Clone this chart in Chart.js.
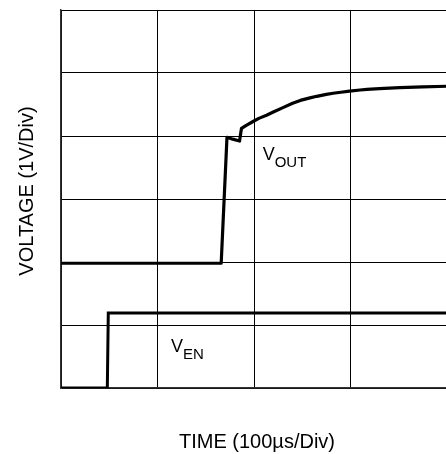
<!DOCTYPE html>
<html>
<head>
<meta charset="utf-8">
<script src="https://cdn.jsdelivr.net/npm/chart.js@4"></script>
<style>
  html, body { margin: 0; padding: 0; background: #fff; overflow: hidden; }
  #wrap { width: 446px; height: 454px; overflow: hidden; }
</style>
</head>
<body>
<div id="wrap"><canvas id="chart" width="448" height="454"></canvas></div>
<script>
// Tempo em µs, tensão em V
const voutTime = [0, 166, 172, 178, 185, 187, 192, 199, 205, 213, 220, 230, 240, 248, 258, 265, 275, 282, 290, 299, 310, 317, 330, 351, 375, 400];
const voutVolts = [1.98, 1.98, 3.98, 3.95, 3.92, 4.12, 4.17, 4.23, 4.28, 4.33, 4.38, 4.45, 4.52, 4.565, 4.605, 4.63, 4.66, 4.678, 4.695, 4.712, 4.73, 4.74, 4.752, 4.768, 4.78, 4.79];
const venTime = [0, 48, 49, 400];
const venVolts = [0, 0, 1.19, 1.19];

const xTitle = 'TIME (100µs/Div)';
const yTitle = 'VOLTAGE (1V/Div)';
// rótulos das curvas: [texto, subscrito, tempo, tensão]
const traceLabels = [
    ['V', 'OUT', 209, 3.62],
    ['V', 'EN', 114, 0.57]
];

function toPoints(xs, ys) {
    return xs.map((x, i) => ({ x: x, y: ys[i] }));
}

// Plugin para os títulos dos eixos e os rótulos com subscrito
const textPlugin = {
    id: 'textPlugin',
    afterDraw(chart) {
        const ctx = chart.ctx;
        ctx.save();
        ctx.fillStyle = '#000';
        ctx.font = '20px "Liberation Sans", Arial, sans-serif';
        ctx.textAlign = 'center';
        ctx.textBaseline = 'alphabetic';
        ctx.fillText(xTitle, 257, 448);

        ctx.save();
        ctx.translate(33, 191);
        ctx.rotate(-Math.PI / 2);
        ctx.fillText(yTitle, 0, 0);
        ctx.restore();

        ctx.textAlign = 'left';
        traceLabels.forEach(([main, sub, t, v]) => {
            const px = chart.scales.x.getPixelForValue(t);
            const py = chart.scales.y.getPixelForValue(v);
            ctx.font = '18px "Liberation Sans", Arial, sans-serif';
            ctx.fillText(main, px, py);
            const w = ctx.measureText(main).width;
            ctx.font = '15px "Liberation Sans", Arial, sans-serif';
            ctx.fillText(sub, px + w, py + 7);
        });
        ctx.restore();
    }
};

const ctx = document.getElementById('chart').getContext('2d');
new Chart(ctx, {
    type: 'line',
    data: {
        datasets: [
            {
                label: 'VOUT',
                data: toPoints(voutTime, voutVolts),
                borderColor: '#000',
                borderWidth: 3.2,
                borderJoinStyle: 'round',
                pointRadius: 0,
                tension: 0
            },
            {
                label: 'VEN',
                data: toPoints(venTime, venVolts),
                borderColor: '#000',
                borderWidth: 3,
                pointRadius: 0,
                tension: 0
            }
        ]
    },
    options: {
        responsive: false,
        animation: false,
        devicePixelRatio: 1,
        layout: { padding: { left: 61, top: 10, right: 1, bottom: 66 } },
        plugins: {
            legend: { display: false },
            tooltip: { enabled: false }
        },
        scales: {
            x: {
                type: 'linear',
                min: 0,
                max: 400,
                ticks: { display: false, stepSize: 100 },
                grid: { color: '#000', lineWidth: 1, drawTicks: false },
                border: { color: '#333', width: 1.5 }
            },
            y: {
                type: 'linear',
                min: 0,
                max: 6,
                ticks: { display: false, stepSize: 1 },
                grid: { color: '#000', lineWidth: 1, drawTicks: false },
                border: { color: '#333', width: 1.5 }
            }
        }
    },
    plugins: [textPlugin]
});
</script>
</body>
</html>
